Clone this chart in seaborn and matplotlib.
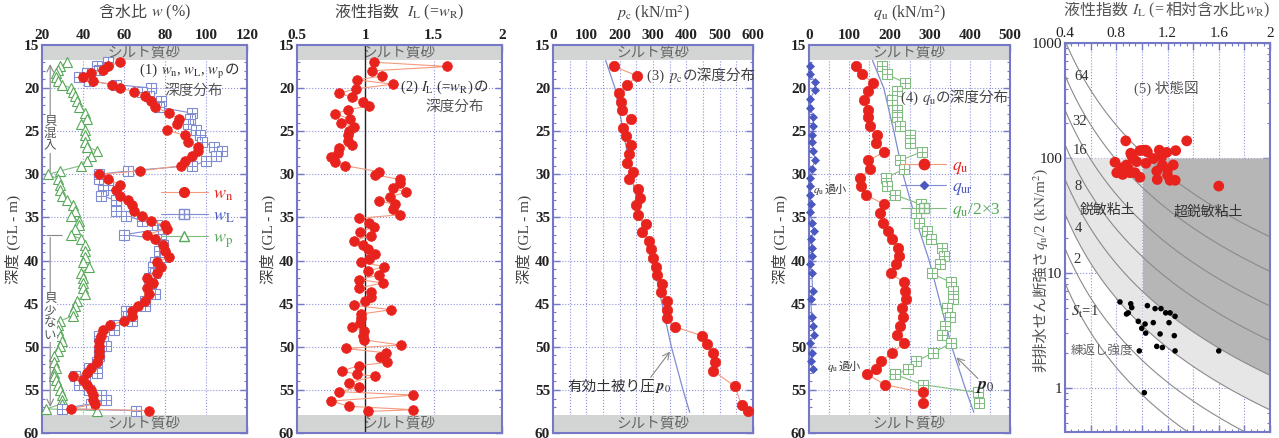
import numpy as np
import matplotlib
matplotlib.use('Agg')
import matplotlib.pyplot as plt
import seaborn as sns
from matplotlib.lines import Line2D
from matplotlib.legend_handler import HandlerTuple
from matplotlib.offsetbox import TextArea, HPacker, AnnotationBbox
from matplotlib.ticker import MultipleLocator, FuncFormatter, LogLocator, NullFormatter

# ---------------- data ----------------
# (1) water content profile
d1 = [17.0, 17.5, 17.9, 18.3, 18.7, 19.2, 19.6, 20.0, 20.4, 20.9,
      21.5, 22.2, 22.9, 23.6, 24.2, 24.9, 25.5, 26.2, 26.8, 27.3,
      27.9, 28.5, 29.0, 29.6, 30.0, 30.6, 31.2, 31.8, 32.5, 33.0,
      33.6, 34.3, 34.8, 35.4, 35.9, 36.3, 37.0, 37.5, 38.2, 38.9,
      39.6, 40.2, 40.8, 41.4, 42.0, 42.6, 43.2, 43.9, 44.7, 45.3,
      45.8, 46.4, 47.0, 47.5, 48.1, 48.7, 49.3, 49.9, 50.5, 51.1,
      51.8, 52.5, 53.0, 53.4, 53.9, 54.4, 55.0, 55.6, 56.2, 56.6,
      57.2, 57.4]
wn = [58, 52, 50, 44, 40, 45, 54, 58, 65, 70,
      73, 75, 82, 87, 86, 81, 90, 91, 96, 96,
      93, 90, 88, 68, 48, 52, 58, 56, 58, 62,
      64, 65, 69, 73, 80, 81, 71, 75, 79, 80,
      82, 76, 78, 76, 71, 74, 71, 72, 70, 67,
      64, 64, 60, 53, 50, 49, 48, 48, 48, 48,
      47, 44, 42, 35, 40, 42, 44, 45, 45, 46,
      34, 72]
wL = [52, 47, 48, 42, 38, 43, 56, 73, 69, 72,
      78, 77, 93, 92, 91, 95, 97, 98, 104, 108,
      105, 100, 93, 62, 48, 48, 52, 50, 49, 56,
      56, 56, 61, 69, 76, 79, 60, 78, 79, 77,
      80, 75, 74, 75, 72, 73, 73, 75, 70, 70,
      61, 62, 64, 55, 55, 48, 50, 51, 48, 48,
      47, 43, 47, 36, 41, 38, 43, 49, 51, 44,
      30, 66]
wp = [32, 29, 28, 27, 27, 28, 30, 34, 35, 36,
      37, 38, 41, 42, 39, 41, 41, 41, 42, 47,
      44, 42, 39, 29, 23, 28, 29, 29, 30, 32,
      35, 36, 34, 38, 38, 36, 34, 39, 41, 41,
      41, 40, 43, 39, 40, 40, 40, 41, 37, 36,
      35, 35, 29, 28, 28, 29, 30, 29, 28, 26,
      26, 27, 26, 26, 27, 28, 29, 30, 30, 30,
      22, 47]

# (2) liquidity index profile
d2 = [17.0, 17.5, 18.0, 18.6, 19.05, 19.55, 20.1, 20.6, 21.06, 21.6,
      22.1, 22.5, 23.0, 23.6, 24.1, 24.5, 25.0, 25.5, 26.1, 26.6,
      27.0, 27.5, 28.05, 28.55, 29.0, 29.7, 30.05, 30.6, 31.0, 31.6,
      32.1, 32.6, 33.1, 33.5, 34.0, 34.7, 35.1, 35.6, 36.1, 36.7,
      37.1, 37.7, 38.2, 38.7, 39.2, 39.8, 40.2, 40.7, 41.2, 41.7,
      42.2, 42.6, 43.2, 43.7, 44.2, 44.7, 45.2, 45.7, 46.2, 46.7,
      47.2, 47.7, 48.2, 48.7, 49.2, 49.8, 50.2, 50.7, 51.2, 51.8,
      52.2, 52.8, 53.2, 53.4, 54.2, 54.7, 55.2, 55.6, 56.3, 56.9,
      57.3, 57.5]
IL = [1.06, 1.60, 1.05, 1.12, 0.94, 1.20, 0.93, 0.81, 0.90, 0.985,
      1.03, 0.87, 0.78, 0.89, 0.82, 0.92, 0.88, 0.87, 0.87, 0.90,
      0.81, 0.80, 0.75, 0.78, 0.85, 1.10, 1.07, 1.25, 1.25, 1.20,
      1.30, 1.18, 1.10, 1.22, 1.20, 1.25, 0.95, 1.03, 1.06, 0.96,
      1.04, 0.92, 0.985, 1.02, 1.07, 1.03, 0.97, 1.14, 1.02, 1.10,
      0.95, 1.13, 0.95, 1.04, 1.04, 1.00, 0.92, 1.19, 0.97, 0.97,
      0.96, 0.90, 0.99, 0.98, 0.99, 1.26, 0.86, 1.15, 1.11, 1.16,
      0.95, 0.83, 0.94, 1.07, 0.88, 0.95, 0.81, 1.35, 0.75, 0.88,
      1.35, 1.02]

# (3) consolidation yield stress and effective overburden
d3 = [17.5, 18.6, 19.6, 20.6, 21.6, 22.5, 23.6, 24.6, 25.6, 26.6,
      27.6, 28.7, 29.7, 30.6, 31.7, 32.7, 33.6, 34.7, 35.8, 36.7,
      37.7, 38.7, 39.7, 40.7, 41.7, 42.7, 43.7, 44.7, 45.7, 46.7,
      47.7, 48.7, 49.7, 50.7, 51.8, 52.8, 54.6, 56.8, 57.4]
pc = [184, 253, 223, 199, 204, 207, 234, 211, 219, 234,
      228, 221, 239, 228, 256, 261, 249, 256, 278, 268,
      288, 293, 299, 308, 311, 328, 323, 341, 341, 341,
      366, 446, 461, 481, 486, 481, 546, 566, 586]
d_p0 = [16.8, 20, 25, 30, 35, 40, 45, 50, 55, 57.6]
p0 = [158, 186, 211, 234, 264, 299, 327, 355, 390, 410]

# (4) unconfined compression strength
d4 = [17.4, 18.4, 19.4, 20.3, 21.4, 22.5, 23.4, 24.4, 25.4, 26.4,
      27.4, 28.4, 29.4, 30.4, 31.4, 32.4, 33.5, 34.5, 35.6, 36.6,
      37.5, 38.5, 39.5, 40.4, 41.5, 42.5, 43.5, 44.5, 45.5, 46.5,
      47.6, 48.6, 49.6, 50.7, 51.7, 52.6, 53.2, 54.4, 55.3, 56.5]
qu = [117, 131, 160, 148, 137, 148, 146, 152, 168, 167,
      187, 148, 152, 127, 129, 143, 187, 177, 183, 197,
      206, 221, 225, 216, 203, 236, 239, 241, 231, 235,
      226, 220, 236, 207, 178, 167, 145, 189, 283, 283]
qu_half3 = [181, 193, 240, 218, 206, 218, 220, 226, 251, 251,
            280, 226, 236, 192, 193, 214, 279, 266, 274, 293,
            303, 330, 336, 326, 305, 352, 357, 357, 344, 351,
            338, 330, 352, 309, 266, 247, 214, 283, 421, 424]
d_qur = [17.4, 18.4, 19.3, 20.2, 21.3, 22.3, 23.3, 24.4, 25.4, 26.3,
         27.3, 28.4, 29.4, 30.4, 31.4, 32.4, 33.4, 34.4, 35.6, 36.6,
         37.5, 38.5, 39.5, 40.4, 41.5, 43.5, 44.5, 46.5, 47.6, 48.6,
         49.6, 50.7, 51.7, 52.6]
qur = [2.5, 2.5, 15, 15, 2.5, 2.5, 11, 9, 7, 7,
       11, 15, 7, 2.5, 2.5, 2.5, 4, 3, 7, 12,
       4, 7, 7, 2.5, 7, 9, 4, 7, 11, 12,
       2.5, 7, 4, 9]

# (5) state diagram
IL_red = [0.874, 1.35, 0.913, 0.985, 1.032, 1.136, 1.194, 1.264, 0.933, 0.79,
          1.09, 1.155, 1.032, 0.837, 0.894, 0.804, 0.946, 0.985, 1.116, 1.16,
          1.245, 1.20, 1.12, 1.20, 1.22, 1.26, 1.60, 0.88, 0.96, 1.011,
          1.043, 0.907, 0.92, 0.85]
su_red = [141, 141, 110, 116, 117, 117, 112, 116, 99, 92,
          99, 103, 90, 82, 81, 74.5, 74.5, 68, 77, 87,
          87, 79, 65, 71, 64, 64, 57, 87, 93, 117,
          113, 74.5, 105, 72]
IL_blk = [0.829, 0.913, 0.921, 0.894, 0.88, 1.043, 1.103, 1.149, 1.186, 1.22,
          1.259, 0.972, 1.025, 0.999, 1.089, 1.212, 1.03, 1.142, 1.253, 0.98,
          1.116, 1.16, 1.259, 1.60, 1.019]
su_blk = [5.6, 5.4, 5.0, 4.5, 4.4, 5.2, 4.9, 4.9, 4.5, 4.5,
          4.2, 3.8, 3.6, 3.3, 3.7, 3.7, 3.0, 2.95, 2.85, 2.1,
          2.3, 2.25, 2.1, 2.1, 0.91]
St_values = [0.5, 1, 2, 4, 8, 16, 32, 64]
cu_r_coef, cu_r_exp = 1.75, 2.44   # remoulded strength ~ coef * IL^-exp
St_light, St_dark = 2, 4           # lower bounds of the shaded zones

# ---------------- style ----------------
sns.set_theme(style='white')
plt.rcParams['font.family'] = ['Liberation Serif', 'Noto Sans CJK JP']
plt.rcParams['mathtext.fontset'] = 'stix'
plt.rcParams['axes.unicode_minus'] = False

FRAME = '#7478c6'
GRID = '#8e93da'
BAND = '#d3d4d4'
RED = '#e8231d'
RED_L = '#f39a7c'
BLUE = '#4a58c0'
BLUE_L = '#7f8cd2'
GREEN = '#58a85a'
GREEN_L = '#80bc82'
TXT = '#444444'

fig = plt.figure(figsize=(12.79, 4.38), dpi=100)
H = 0.886
B = 0.0114
ax1 = fig.add_axes([42 / 1279, B, 205 / 1279, H])
ax2 = fig.add_axes([297 / 1279, B, 205 / 1279, H])
ax3 = fig.add_axes([553 / 1279, B, 200 / 1279, H])
ax4 = fig.add_axes([809 / 1279, B, 201 / 1279, H])
ax5 = fig.add_axes([1065 / 1279, 0.0137, 205 / 1279, 0.888])


def rich(ax, parts, xy, coords='data', align=(0.5, 0.5), size=10.5, color='#444444'):
    # mixed Japanese / math text: each piece rendered on its own, then packed in a row
    boxes = [TextArea(s, textprops=dict(fontsize=size, color=color)) for s in parts]
    pack = HPacker(children=boxes, align='baseline', pad=0, sep=0)
    ab = AnnotationBbox(pack, xy, xycoords=coords, box_alignment=align,
                        frameon=False, pad=0, zorder=7)
    ab.set_clip_on(False)
    ax.add_artist(ab)
    return ab


def frame(ax):
    for s in ax.spines.values():
        s.set_color(FRAME)
        s.set_linewidth(1.5)
    ax.tick_params(which='both', direction='in', color=FRAME, top=True, bottom=True,
                   left=True, right=True, labeltop=True, labelbottom=False,
                   labelsize=11, labelcolor='#222222', pad=2)
    ax.tick_params(which='major', length=5, width=1)
    ax.tick_params(which='minor', length=2.5, width=0.8)
    ax.grid(True, which='major', color=GRID, ls=':', lw=0.8)


def label_every(step):
    def f(v, pos):
        k = v / step
        return ('%g' % v) if abs(k - round(k)) < 1e-6 else ''
    return FuncFormatter(f)


def depth_axis(ax, xlim, grid_step, lab_step, minor_step, title):
    frame(ax)
    ax.set_xlim(*xlim)
    ax.set_ylim(60, 15)
    ax.xaxis.set_major_locator(MultipleLocator(grid_step))
    ax.xaxis.set_minor_locator(MultipleLocator(minor_step))
    ax.xaxis.set_major_formatter(label_every(lab_step))
    ax.yaxis.set_major_locator(MultipleLocator(5))
    ax.yaxis.set_minor_locator(MultipleLocator(1))
    ax.axhspan(15, 16.8, color=BAND, zorder=1, lw=0)
    ax.axhspan(57.9, 60, color=BAND, zorder=1, lw=0)
    xm = 0.5 * (xlim[0] + xlim[1])
    ax.text(xm, 15.9, 'シルト質砂', ha='center', va='center', fontsize=10.5, color='#666666', zorder=2)
    ax.text(xm, 59.0, 'シルト質砂', ha='center', va='center', fontsize=10.5, color='#666666', zorder=2)
    ax.set_ylabel('深度 (GL - m)', fontsize=11, color=TXT, labelpad=2)
    rich(ax, title, (0.5, 1.083), coords='axes fraction', size=11.5, color=TXT)


# ---------------- (1) ----------------
depth_axis(ax1, (20, 120), 20, 20, 5, ['含水比 ', '$w$ (%)'])
sns.lineplot(x=wp, y=d1, sort=False, estimator=None, ax=ax1, color=GREEN_L, lw=0.8,
             marker='^', ms=6.5, mfc='white', mec=GREEN, mew=0.8, zorder=3)
sns.lineplot(x=wL, y=d1, sort=False, estimator=None, ax=ax1, color=BLUE_L, lw=0.8,
             marker='s', ms=6.5, mfc='white', mec=BLUE_L, mew=0.8, zorder=4)
ax1.plot(wL, d1, ls='none', marker='+', ms=6.5, mec=BLUE_L, mew=0.7, zorder=4)
sns.lineplot(x=wn, y=d1, sort=False, estimator=None, ax=ax1, color=RED_L, lw=0.8,
             marker='o', ms=7, mfc=RED, mec=RED, mew=0.5, zorder=5)

ax1.annotate('', xy=(24, 16.9), xytext=(24, 30.0),
             arrowprops=dict(arrowstyle='->', color='#888888', lw=0.8))
ax1.annotate('', xy=(24, 57.3), xytext=(24, 37.0),
             arrowprops=dict(arrowstyle='->', color='#888888', lw=0.8))
ax1.hlines(37.0, 22, 30, color='#888888', lw=0.8)
ax1.text(24, 25.3, '貝\n混\n入', ha='center', va='center', fontsize=9, color='#555555',
         linespacing=1.0, bbox=dict(fc='white', ec='none', pad=0.5), zorder=6)
ax1.text(24, 46.6, '貝\n少\nな\nい', ha='center', va='center', fontsize=9, color='#555555',
         linespacing=1.0, bbox=dict(fc='white', ec='none', pad=0.5), zorder=6)
rich(ax1, ['(1) ', '$w_\\mathrm{n}$, $w_\\mathrm{L}$, $w_\\mathrm{p}$', 'の'], (92, 18.1),
     size=10.5, color='#333333')
ax1.text(94, 20.3, '深度分布', ha='center', va='center', fontsize=10.5, color='#555555', zorder=6)

h_wn = Line2D([], [], color=RED_L, lw=0.8, marker='o', ms=7, mfc=RED, mec=RED)
h_wL = (Line2D([], [], color=BLUE_L, lw=0.8, marker='s', ms=6.5, mfc='white', mec=BLUE_L),
        Line2D([], [], ls='none', marker='+', ms=6.5, mec=BLUE_L))
h_wp = Line2D([], [], color=GREEN_L, lw=0.8, marker='^', ms=6.5, mfc='white', mec=GREEN)
leg = ax1.legend([h_wn, h_wL, h_wp], ['$w_\\mathrm{n}$', '$w_\\mathrm{L}$', '$w_\\mathrm{p}$'],
                 handler_map={tuple: HandlerTuple(ndivide=1, pad=0)},
                 loc='upper right', bbox_to_anchor=(1.02, 0.68), frameon=False,
                 fontsize=13, handlelength=2.6, handletextpad=0.3, labelspacing=0.25)
for t, c in zip(leg.get_texts(), [RED, BLUE, GREEN]):
    t.set_color(c)

# ---------------- (2) ----------------
depth_axis(ax2, (0.5, 2.0), 0.5, 0.5, 0.1,
           ['液性指数  ', '$I_\\mathrm{L}$ (=$w_\\mathrm{R}$)'])
ax2.axvline(1.0, color='#222222', lw=1.0, zorder=2)
sns.lineplot(x=IL, y=d2, sort=False, estimator=None, ax=ax2, color=RED_L, lw=0.8,
             marker='o', ms=7, mfc=RED, mec=RED, mew=0.5, zorder=5)
rich(ax2, ['(2) ', '$I_\\mathrm{L}$ (=$w_\\mathrm{R}$)', 'の'], (1.58, 19.9), color='#333333')
ax2.text(1.65, 22.2, '深度分布', ha='center', va='center', fontsize=10.5, color='#555555', zorder=6)

# ---------------- (3) ----------------
depth_axis(ax3, (0, 600), 50, 100, 10, ['$p_\\mathrm{c}$ (kN/m$^2$)'])
sns.lineplot(x=p0, y=d_p0, sort=False, estimator=None, ax=ax3, color=BLUE_L, lw=0.9, zorder=3)
sns.lineplot(x=pc, y=d3, sort=False, estimator=None, ax=ax3, color=RED_L, lw=0.8,
             marker='o', ms=7.5, mfc=RED, mec=RED, mew=0.5, zorder=5)
rich(ax3, ['(3) ', '$p_\\mathrm{c}$', 'の深度分布'], (283, 18.7), align=(0, 0.5), color='#444444')
rich(ax3, ['有効土被り圧', '$\\boldsymbol{p}_0$'], (200, 54.7), color='#333333')
ax3.annotate('', xy=(356, 50.3), xytext=(288, 53.8),
             arrowprops=dict(arrowstyle='->', color='#888888', lw=0.8))

# ---------------- (4) ----------------
depth_axis(ax4, (0, 500), 50, 100, 10, ['$q_\\mathrm{u}$ (kN/m$^2$)'])
sns.lineplot(x=p0, y=d_p0, sort=False, estimator=None, ax=ax4, color=BLUE_L, lw=0.9, zorder=3)
sns.lineplot(x=qu_half3, y=d4, sort=False, estimator=None, ax=ax4, color=GREEN_L, lw=0.8,
             marker='s', ms=6.5, mfc='white', mec=GREEN_L, mew=0.8, zorder=4)
ax4.plot(qu_half3, d4, ls='none', marker='+', ms=6.5, mec=GREEN_L, mew=0.7, zorder=4)
sns.lineplot(x=qur, y=d_qur, sort=False, estimator=None, ax=ax4, color=BLUE_L, lw=0.8,
             marker='D', ms=4.5, mfc=BLUE, mec=BLUE, mew=0.5, zorder=5, clip_on=False)
sns.lineplot(x=qu, y=d4, sort=False, estimator=None, ax=ax4, color=RED_L, lw=0.8,
             marker='o', ms=7.5, mfc=RED, mec=RED, mew=0.5, zorder=5)
rich(ax4, ['(4) ', '$q_\\mathrm{u}$', 'の深度分布'], (363, 21.3), color='#444444')
rich(ax4, ['$q_\\mathrm{u}$', '過小'], (93, 31.9), align=(1, 0.5), size=8, color='#333333')
rich(ax4, ['$q_\\mathrm{u}$', '過小'], (128, 52.4), align=(1, 0.5), size=8, color='#333333')
ax4.text(438, 54.6, '$\\boldsymbol{p}_0$', ha='center', va='center', fontsize=13,
         color='#222222', zorder=7)
ax4.annotate('', xy=(362, 51.0), xytext=(425, 53.9),
             arrowprops=dict(arrowstyle='->', color='#888888', lw=0.8))
h_qu = Line2D([], [], color=RED_L, lw=0.8, marker='o', ms=7.5, mfc=RED, mec=RED)
h_qur = Line2D([], [], color=BLUE_L, lw=0.8, marker='D', ms=4.5, mfc=BLUE, mec=BLUE)
h_q3 = (Line2D([], [], color=GREEN_L, lw=0.8, marker='s', ms=6.5, mfc='white', mec=GREEN_L),
        Line2D([], [], ls='none', marker='+', ms=6.5, mec=GREEN_L))
leg4 = ax4.legend([h_qu, h_qur, h_q3],
                  ['$q_\\mathrm{u}$', '$q_\\mathrm{ur}$', '$q_\\mathrm{u}$/2×3'],
                  handler_map={tuple: HandlerTuple(ndivide=1, pad=0)},
                  loc='upper right', bbox_to_anchor=(1.03, 0.75), frameon=False,
                  fontsize=12.5, handlelength=2.6, handletextpad=0.3, labelspacing=0.2)
for t, c in zip(leg4.get_texts(), [RED, BLUE, GREEN]):
    t.set_color(c)

# ---------------- (5) ----------------
frame(ax5)
ax5.set_yscale('log')
ax5.set_xlim(0.4, 2.0)
ax5.set_ylim(0.414, 1000)
ax5.xaxis.set_major_locator(MultipleLocator(0.2))
ax5.xaxis.set_minor_locator(MultipleLocator(0.05))
ax5.xaxis.set_major_formatter(label_every(0.4))
ax5.yaxis.set_major_locator(LogLocator(base=10))
ax5.yaxis.set_minor_locator(LogLocator(base=10, subs=np.arange(2, 10)))
ax5.yaxis.set_major_formatter(FuncFormatter(lambda v, p: '%g' % v))
ax5.yaxis.set_minor_formatter(NullFormatter())
rich(ax5, ['液性指数 ', '$I_\\mathrm{L}$ (=', '相対含水比', '$w_\\mathrm{R}$)'], (0.5, 1.083),
     coords='axes fraction', size=11.5, color='#555555')
# rotated y label: Japanese part below the split point, math part above it
ax5.text(-0.118, 0.468, '非排水せん断強さ', rotation=90, ha='center', va='top',
         transform=ax5.transAxes, fontsize=11, color='#555555')
ax5.text(-0.118, 0.468, '$q_\\mathrm{u}$/2 (kN/m$^2$)', rotation=90, ha='center', va='bottom',
         transform=ax5.transAxes, fontsize=11, color='#555555')

il_grid = np.linspace(0.4, 2.0, 300)
cu_r = cu_r_coef * il_grid ** (-cu_r_exp)
left = il_grid <= 1.0
right = il_grid >= 1.0
ax5.fill_between(il_grid[left], St_light * cu_r[left], 100, color='#e6e6e6', lw=0, zorder=0.6)
ax5.fill_between(il_grid[right], St_light * cu_r[right], St_dark * cu_r[right],
                 color='#e6e6e6', lw=0, zorder=0.6)
ax5.fill_between(il_grid[right], St_dark * cu_r[right], 100, color='#b6b6b6', lw=0, zorder=0.6)
for st in St_values:
    ax5.plot(il_grid, st * cu_r, color='#8a8a8a', lw=0.8, zorder=2)

sns.scatterplot(x=IL_red, y=su_red, ax=ax5, color=RED, s=60, edgecolor='none', zorder=5)
sns.scatterplot(x=IL_blk, y=su_blk, ax=ax5, color='black', s=16, edgecolor='none', zorder=5)

for lab, x, y in [('64', 0.53, 510), ('32', 0.517, 207), ('16', 0.517, 117), ('8', 0.504, 56),
                  ('4', 0.504, 24.5), ('2', 0.49, 13)]:
    ax5.text(x, y, lab, ha='center', va='center', fontsize=10.5, color='#333333', zorder=6)
ax5.text(0.556, 4.6, '$S_\\mathrm{t}$=1', ha='center', va='center', fontsize=10.5, color='#333333', zorder=6)
ax5.text(0.69, 2.07, '練返し強度', ha='center', va='center', fontsize=9, color='#666666', zorder=6)
ax5.text(1.19, 404, '(5) 状態図', ha='center', va='center', fontsize=10.5, color='#555555', zorder=6)
ax5.text(0.735, 35, '鋭敏粘土', ha='center', va='center', fontsize=10, color='#333333', zorder=6)
ax5.text(1.515, 34, '超鋭敏粘土', ha='center', va='center', fontsize=10, color='#333333', zorder=6)

# depth panels use heavy tick numbers, the state diagram plain ones
for ax in (ax1, ax2, ax3, ax4):
    plt.setp(ax.get_xticklabels() + ax.get_yticklabels(), fontweight='bold')

fig.savefig('out.png', dpi=100)
